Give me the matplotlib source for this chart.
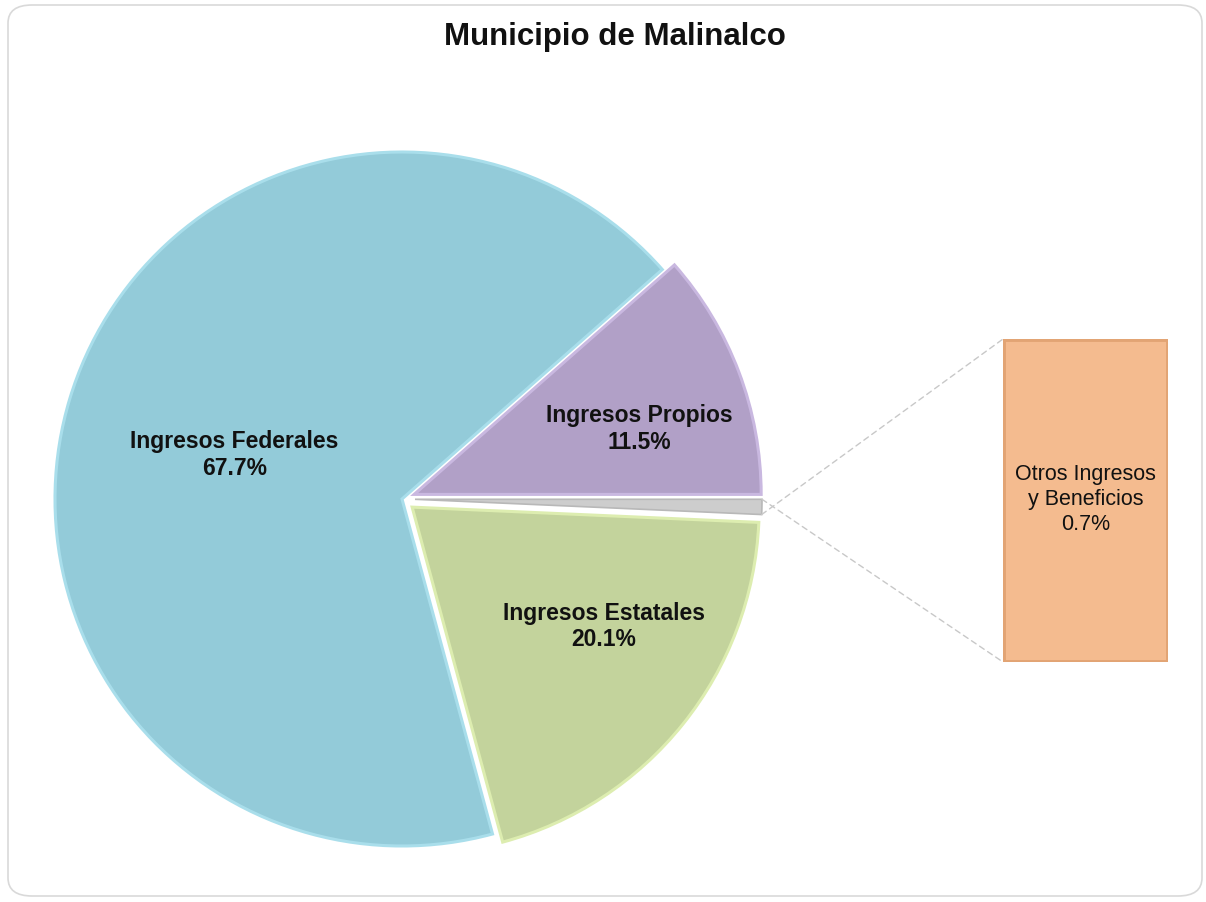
import matplotlib.pyplot as plt
import numpy as np
from matplotlib.patches import FancyBboxPatch, ConnectionPatch

plt.rcParams['font.family'] = ['Liberation Sans', 'DejaVu Sans']

title = "Municipio de Malinalco"
labels = ["Ingresos Propios", "Otros Ingresos\ny Beneficios", "Ingresos Estatales", "Ingresos Federales"]
values = [11.5, 0.7, 20.1, 67.7]
colors = ["#B1A0C7", "#CDCDCD", "#C3D39C", "#93CBD9"]
edges = ["#C9B8E0", "#B8B8B8", "#DDEDB0", "#A9DEEB"]

W, H = 1206, 903
fig = plt.figure(figsize=(W / 100, H / 100), dpi=100)
fig.patch.set_facecolor("white")

# rounded chart frame
frame = FancyBboxPatch((8 / W, 6 / H), (W - 12) / W, (H - 12) / H,
                       boxstyle="round,pad=0,rounding_size=0.02",
                       transform=fig.transFigure, facecolor="white",
                       edgecolor="#D9D9D9", linewidth=1.2, zorder=-5)
fig.patches.append(frame)

ax = fig.add_axes([0, 0, 1, 1])
ax.patch.set_alpha(0)

cx, cy, r = 402, H - 500, 347
# explode is in data units (pixels here)
wedges, _ = ax.pie(values, colors=colors, explode=[13, 13, 13, 0], startangle=41.4,
                   counterclock=False, center=(cx, cy), radius=r,
                   wedgeprops=dict(linewidth=2.2))
for w, ec in zip(wedges, edges):
    w.set_edgecolor(ec)
wedges[1].set_linewidth(1.2)
ax.set_xlim(0, W)
ax.set_ylim(0, H)
ax.set_aspect("equal")
ax.axis("off")

# labels inside the slices: (distance, angle tweak)
lab_pos = {0: (0.675, -4.3), 2: (0.65, 7.0), 3: (0.5, 1.8)}
for i, w in enumerate(wedges):
    if i not in lab_pos:
        continue
    d, tw = lab_pos[i]
    mid = np.deg2rad((w.theta1 + w.theta2) / 2 + tw)
    wx, wy = w.center
    ax.text(wx + d * r * np.cos(mid), wy + d * r * np.sin(mid),
            f"{labels[i]}\n{values[i]:.1f}%", ha="center", va="center",
            fontsize=16.5, fontweight="bold", color="#111111", linespacing=1.2)

ax.text(615, H - 37, title, ha="center", va="center",
        fontsize=22.5, fontweight="bold", color="#111111")

# bar for the small slice
bx0, by0, bx1, by1 = 1003, 340, 1168, 663
ax_bar = fig.add_axes([bx0 / W, (H - by1) / H, (bx1 - bx0) / W, (by1 - by0) / H])
ax_bar.bar(0, values[1], width=1, color="#F4BB8F", edgecolor="#E2A474", linewidth=3.5)
ax_bar.set_xlim(-0.5, 0.5)
ax_bar.set_ylim(0, values[1])
ax_bar.axis("off")
ax_bar.text(0, values[1] * 0.505, f"{labels[1]}\n{values[1]:.1f}%", ha="center",
            va="center", fontsize=15.5, color="#111111", linespacing=1.25)

# connector lines from the small slice to the bar
w = wedges[1]
wx, wy = w.center
for ang, yb in [(w.theta1, 1), (w.theta2, 0)]:
    a = np.deg2rad(ang)
    p = (wx + r * np.cos(a), wy + r * np.sin(a))
    con = ConnectionPatch(xyA=p, coordsA=ax.transData, xyB=(-0.5, values[1] * yb),
                          coordsB=ax_bar.transData, color="#C8C8C8",
                          linestyle=(0, (4, 3)), linewidth=1)
    fig.add_artist(con)

fig.savefig("out.png", dpi=100)
